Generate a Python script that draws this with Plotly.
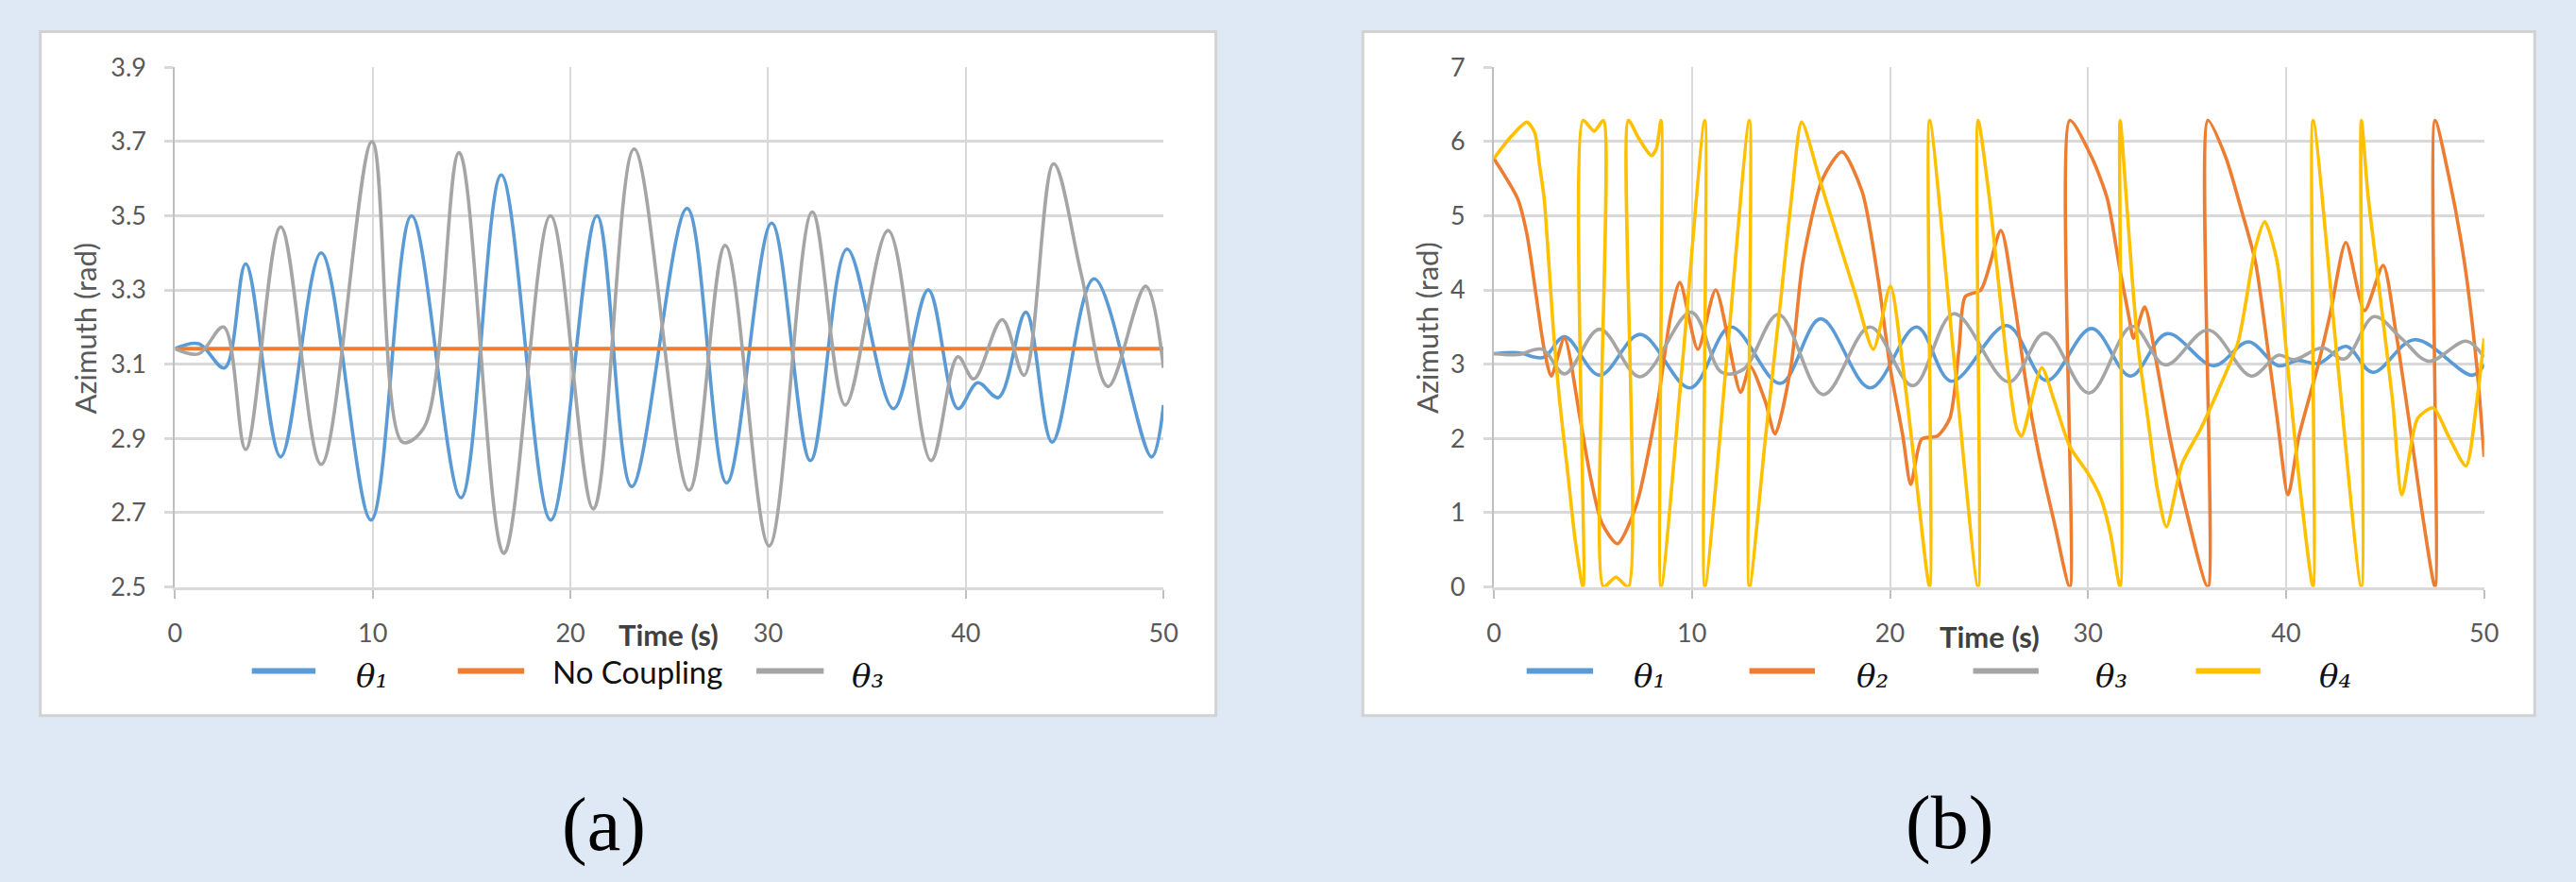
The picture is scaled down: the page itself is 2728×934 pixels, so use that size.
import plotly.graph_objects as go

W, H = 2728, 934

# ---------------- data ----------------
# theta1 / theta3 (same series in both panels)
theta1_t = [0, 1.2, 2.5, 3.57, 5.34, 7.39, 9.91, 11.96, 14.46, 16.5, 19.0, 21.34, 23.1,
            25.9, 27.9, 30.18, 32.14, 33.99, 36.34, 38.1, 39.6, 40.6, 41.65, 43.04,
            44.37, 46.49, 49.4, 50]
theta1_v = [3.142, 3.155, 3.09, 3.37, 2.85, 3.40, 2.68, 3.50, 2.74, 3.61, 2.68, 3.50, 2.77,
            3.52, 2.78, 3.48, 2.84, 3.41, 2.98, 3.30, 2.98, 3.05, 3.01, 3.24,
            2.89, 3.33, 2.85, 2.99]

theta3_t = [0, 1.2, 2.45, 3.57, 5.34, 7.39, 9.96, 11.5, 12.6, 14.37, 16.63, 18.99, 21.16,
            23.22, 26.0, 27.83, 30.05, 32.23, 33.9, 36.07, 38.24, 39.6, 40.4, 41.84,
            42.95, 44.44, 45.85, 47.2, 49.1, 50]
theta3_v = [3.142, 3.128, 3.20, 2.87, 3.47, 2.83, 3.70, 2.89, 2.93, 3.67, 2.59, 3.50, 2.71,
            3.68, 2.76, 3.42, 2.61, 3.51, 2.99, 3.46, 2.84, 3.12, 3.06, 3.22,
            3.07, 3.64, 3.34, 3.04, 3.31, 3.09]

nocoupling_t = [0, 50]
nocoupling_v = [3.1416, 3.1416]

theta2_t = [0, 1.2, 1.67, 2.14, 2.54, 2.9, 3.56, 4.35, 4.82, 5.45, 6.24, 7.18, 8.28, 8.91,
            9.39, 10.3, 11.2, 12.46, 12.94, 13.7, 14.2, 15.0, 15.6, 16.6, 17.58, 18.6,
            19.4, 20.0, 20.65, 21.05, 21.6, 22.39, 23.02, 23.49, 23.8, 24.59, 25.6,
            26.24, 26.87, 27.5, 28.3, 29.08, 29.08, 30.18, 30.97, 31.6, 32.07, 32.3,
            32.86, 33.49, 34.12, 34.9, 36.05, 36.05, 36.95, 37.74, 38.45, 39.08, 39.55,
            40.1, 40.65, 41.6, 42.23, 43.02, 43.96, 44.9, 45.54, 46.32, 46.95, 47.52,
            47.52, 48.2, 49.0, 49.63, 50]
theta2_v = [5.77, 5.23, 4.75, 3.91, 3.2, 2.84, 3.35, 2.27, 1.56, 0.86, 0.58, 1.09, 2.5, 3.63,
            4.1, 3.2, 4.0, 2.62, 2.97, 2.5, 2.06, 2.97, 4.38, 5.5, 5.86, 5.32,
            4.15, 2.97, 2.03, 1.38, 1.99, 2.03, 2.27, 3.21, 3.91, 4.0, 4.8,
            3.91, 2.74, 1.8, 0.86, 0, 6.283, 5.79, 5.23, 4.29, 3.63, 3.35,
            3.77, 2.97, 2.03, 1.09, 0, 6.283, 5.79, 5.08, 4.38, 3.2, 2.27,
            1.24, 2.03, 2.97, 3.68, 4.64, 3.72, 4.33, 3.44, 2.03, 0.86, 0,
            6.283, 5.55, 4.38, 2.97, 1.75]

theta4_t = [0, 0.88, 1.67, 2.06, 2.3, 2.54, 2.77, 3.01, 3.32, 3.72, 4.11, 4.5, 4.5, 5.06,
            5.53, 5.53, 6.16, 6.79, 6.79, 7.3, 7.95, 8.2, 8.44, 8.44, 9.55, 10.65, 10.65,
            11.8, 12.9, 12.9, 13.72, 14.5, 15.06, 15.54, 16.48, 17.35, 18.29, 19.16,
            20.02, 20.65, 21.28, 22.0, 22.0, 23.2, 24.45, 24.45, 24.98, 25.46, 25.93,
            26.4, 26.64, 27.66, 28.3, 29.08, 30.02, 30.65, 31.13, 31.62, 31.62, 31.91,
            32.23, 32.54, 33.02, 33.49, 33.96, 34.75, 35.69, 36.64, 37.58, 38.45, 38.92,
            39.55, 40.0, 40.34, 40.81, 41.36, 41.36, 42.55, 43.8, 43.8, 44.12, 44.75,
            45.38, 45.85, 46.64, 47.43, 48.2, 49.08, 49.63, 50]
theta4_v = [5.77, 6.07, 6.26, 6.12, 5.69, 5.23, 4.38, 3.44, 2.5, 1.56, 0.62, 0, 6.283, 6.14,
            6.283, 0, 0.13, 0, 6.283, 6.05, 5.81, 5.9, 6.283, 0, 3.1, 6.283, 0,
            3.2, 6.283, 0, 2.03, 3.91, 5.32, 6.26, 5.46, 4.71, 3.91, 3.2,
            4.05, 2.97, 1.56, 0, 6.283, 3.16, 0, 6.283, 5.32, 4.15, 2.97,
            2.13, 2.03, 2.95, 2.5, 1.89, 1.52, 1.19, 0.72, 0, 6.283, 5.32,
            4.15, 3.2, 2.27, 1.33, 0.81, 1.66, 2.13, 2.69, 3.3, 4.57, 4.92,
            4.38, 3.2, 2.27, 1.09, 0, 6.283, 3.16, 0, 6.283, 5.32, 3.91,
            2.5, 1.24, 2.27, 2.41, 2.03, 1.63, 2.5, 3.35]

x_ticks = [0, 10, 20, 30, 40, 50]
ya_ticks = [2.5, 2.7, 2.9, 3.1, 3.3, 3.5, 3.7, 3.9]
yb_ticks = [0, 1, 2, 3, 4, 5, 6, 7]

legend_a = [("θ₁", "#5B9BD5"), ("No Coupling", "#ED7D31"), ("θ₃", "#A5A5A5")]
legend_b = [("θ₁", "#5B9BD5"), ("θ₂", "#ED7D31"), ("θ₃", "#A5A5A5"), ("θ₄", "#FFC000")]

BLUE, ORANGE, GRAY, YELLOW = "#5B9BD5", "#ED7D31", "#A5A5A5", "#FFC000"


def px(x):
    return x / W


def py(y):
    return 1 - y / H


fig = go.Figure()

# left panel
fig.add_trace(go.Scatter(x=theta1_t, y=theta1_v, mode="lines", name="θ1",
                         line=dict(color=BLUE, width=3.6, shape="spline", smoothing=1),
                         xaxis="x", yaxis="y", showlegend=False))
fig.add_trace(go.Scatter(x=nocoupling_t, y=nocoupling_v, mode="lines", name="No Coupling",
                         line=dict(color=ORANGE, width=4), xaxis="x", yaxis="y",
                         showlegend=False))
fig.add_trace(go.Scatter(x=theta3_t, y=theta3_v, mode="lines", name="θ3",
                         line=dict(color=GRAY, width=3.6, shape="spline", smoothing=1),
                         xaxis="x", yaxis="y", showlegend=False))

# right panel
fig.add_trace(go.Scatter(x=theta1_t, y=theta1_v, mode="lines", name="θ1",
                         line=dict(color=BLUE, width=3.6, shape="spline", smoothing=1),
                         xaxis="x2", yaxis="y2", showlegend=False))
fig.add_trace(go.Scatter(x=theta2_t, y=theta2_v, mode="lines", name="θ2",
                         line=dict(color=ORANGE, width=3.6, shape="spline", smoothing=0.7),
                         xaxis="x2", yaxis="y2", showlegend=False))
fig.add_trace(go.Scatter(x=theta3_t, y=theta3_v, mode="lines", name="θ3",
                         line=dict(color=GRAY, width=3.6, shape="spline", smoothing=1),
                         xaxis="x2", yaxis="y2", showlegend=False))
fig.add_trace(go.Scatter(x=theta4_t, y=theta4_v, mode="lines", name="θ4",
                         line=dict(color=YELLOW, width=3.6, shape="spline", smoothing=0.7),
                         xaxis="x2", yaxis="y2", showlegend=False))

tickfont = dict(family="Lato, 'Open Sans', sans-serif", size=27, color="#595959")

common_x = dict(range=[0, 50], tickvals=x_ticks, showgrid=True, gridcolor="#d9d9d9",
                gridwidth=2, ticks="outside", ticklen=9, tickwidth=2, tickcolor="#bfbfbf",
                showline=True, linecolor="#d9d9d9", linewidth=3, zeroline=False,
                tickfont=tickfont, ticklabelstandoff=14, fixedrange=True)
common_y = dict(showgrid=True, gridcolor="#d9d9d9", gridwidth=3, ticks="outside",
                ticklen=9, tickwidth=3, tickcolor="#d9d9d9", showline=True,
                linecolor="#bfbfbf", linewidth=2, zeroline=False, tickfont=tickfont,
                ticklabelstandoff=14, fixedrange=True)

fig.update_layout(
    width=W, height=H,
    margin=dict(l=0, r=0, t=0, b=0),
    paper_bgcolor="#dee9f5",
    plot_bgcolor="white",
    showlegend=False,
    xaxis=dict(domain=[px(179), px(1235)], anchor="y", **common_x),
    yaxis=dict(domain=[py(626), py(56)], anchor="x", range=[2.4995, 3.9005],
               tickvals=ya_ticks, ticktext=[f"{v:.1f}" for v in ya_ticks], **common_y),
    xaxis2=dict(domain=[px(1588), px(2646)], anchor="y2", **common_x),
    yaxis2=dict(domain=[py(626), py(56)], anchor="x2", range=[-0.002, 7.002],
                tickvals=yb_ticks, **common_y),
)

# white cards
shapes = []
for x0, x1 in [(35, 1291), (1448, 2700)]:
    shapes.append(dict(type="rect", xref="paper", yref="paper", x0=px(x0), x1=px(x1),
                       y0=py(767), y1=py(17), fillcolor="white",
                       line=dict(color="#d2d2d2", width=3), layer="below"))

annotations = []
# axis titles
for cx, cy in [(706, 678), (2118, 680)]:
    annotations.append(dict(text="Time (s)", x=px(cx), y=py(cy), xref="paper",
                            yref="paper", showarrow=False, xanchor="center", yanchor="middle",
                            font=dict(family="Lato, sans-serif", size=31, color="#404040",
                                      weight="bold")))
for cx in [83, 1517]:
    annotations.append(dict(text="Azimuth (rad)", x=px(cx), y=py(342), xref="paper",
                            yref="paper", showarrow=False, textangle=-90, xanchor="center",
                            yanchor="middle",
                            font=dict(family="Lato, sans-serif", size=31, color="#595959")))

# legends (drawn as key lines + labels)
leg_a_pos = [(261, 329, 370), (481, 552, 580), (800, 872, 900)]
leg_b_pos = [(1623, 1694, 1735), (1861, 1931, 1973), (2100, 2170, 2229), (2338, 2407, 2468)]
for (label, color), (l0, l1, tx) in list(zip(legend_a, leg_a_pos)) + list(zip(legend_b, leg_b_pos)):
    shapes.append(dict(type="line", xref="paper", yref="paper", x0=px(l0), x1=px(l1),
                       y0=py(718), y1=py(718), line=dict(color=color, width=6)))
    if label.startswith("θ"):
        fnt = dict(family="'DejaVu Serif', 'Liberation Serif', serif", size=34,
                   color="#111111", style="italic")
        yy = 724
    else:
        fnt = dict(family="Lato, sans-serif", size=33, color="#111111")
        yy = 719
    annotations.append(dict(text=label, x=px(tx), y=py(yy), xref="paper", yref="paper",
                            showarrow=False, xanchor="left", yanchor="middle", font=fnt))

# panel labels
for txt, cx, cy in [("(a)", 637, 887), ("(b)", 2075, 885)]:
    annotations.append(dict(text=txt, x=px(cx), y=py(cy), xref="paper", yref="paper",
                            showarrow=False, xanchor="center", yanchor="middle",
                            font=dict(family="'Liberation Serif', serif", size=80,
                                      color="#000000")))

fig.update_layout(shapes=shapes, annotations=annotations)

fig.write_html("out.html")
